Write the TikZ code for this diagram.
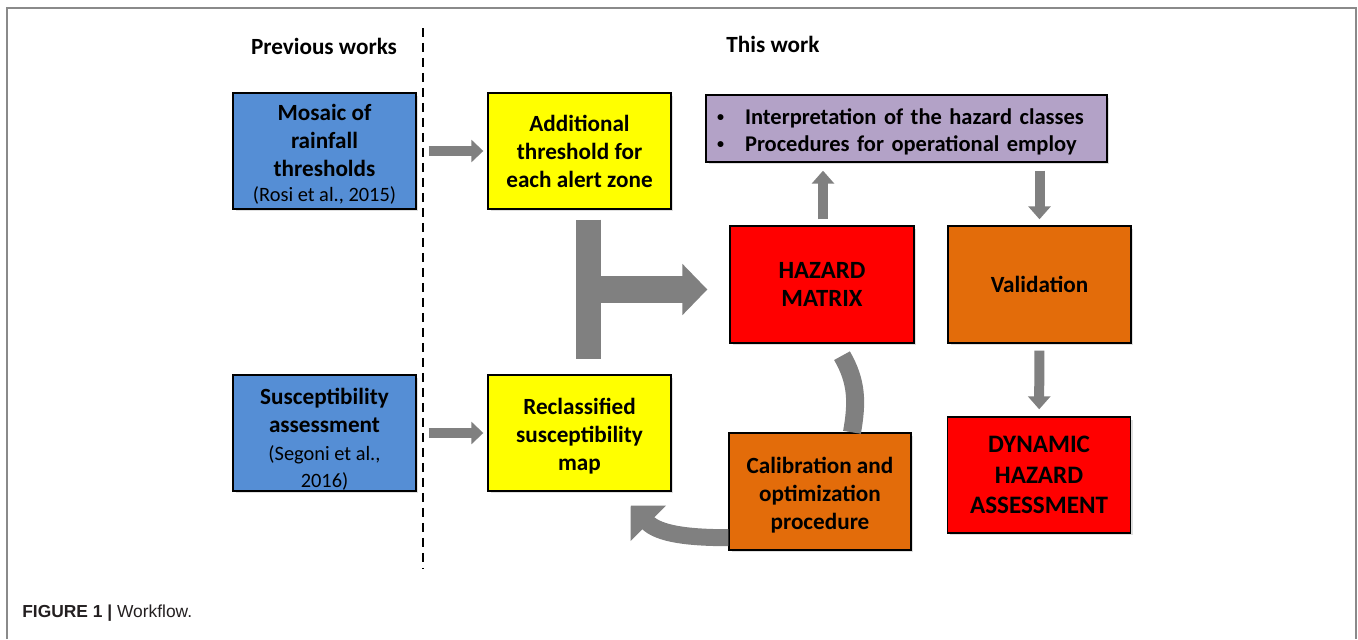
\documentclass[tikz,border=0pt]{standalone}
\usepackage{fontspec}
\setmainfont{Carlito}
\newfontfamily\capfont{Liberation Sans}
\usetikzlibrary{arrows.meta,shadows,calc}
\definecolor{boxblue}{HTML}{558ED5}
\definecolor{boxyellow}{HTML}{FFFF00}
\definecolor{boxpurple}{HTML}{B3A2C7}
\definecolor{boxred}{HTML}{FF0000}
\definecolor{boxorange}{HTML}{E36C0A}
\definecolor{arrowgray}{HTML}{808080}
\definecolor{framegray}{HTML}{8A8A8A}
\definecolor{captiongray}{HTML}{231F20}
\newcommand\refsrc{\mdseries\fontsize{11.6}{14.5}\selectfont}
\newcommand\smallbul{\raisebox{0.25ex}{\fontsize{8}{8}\selectfont\textbullet}}
\newcommand\lowerby[1]{\rule{0pt}{#1}}
\begin{document}
\begin{tikzpicture}[x=0.02cm,y=-0.02cm,
  box/.style={draw=black, line width=0.8pt, align=center, inner sep=0pt,
    font=\bfseries\fontsize{13.2}{15.9}\selectfont,
    minimum width=3.66cm, minimum height=2.32cm,
    drop shadow={opacity=0.25, shadow xshift=0.05cm, shadow yshift=-0.05cm}},
  head/.style={font=\bfseries\fontsize{13.2}{15}\selectfont, inner sep=0pt},
  sarrow/.style={draw=arrowgray, line width=0.2cm,
    -{Triangle[length=0.24cm, width=0.44cm]}},
  varrow/.style={draw=arrowgray, line width=0.2cm,
    -{Triangle[length=0.26cm, width=0.44cm]}},
  tbar/.style={draw=arrowgray, line width=0.5cm},
  tarrow/.style={draw=arrowgray, line width=0.54cm,
    -{Triangle[length=0.5cm, width=1.0cm]}},
  cband/.style={draw=arrowgray, line width=0.36cm},
  carrow/.style={draw=arrowgray, line width=0.34cm,
    -{Triangle[length=0.5cm, width=0.98cm]}},
  divider/.style={draw=black, line width=1.6pt, dash pattern=on 0.18cm off 0.12cm}
]
\useasboundingbox (0,0) rectangle (1358,639);
% frame
\draw[framegray, line width=1.1pt] (7,639) -- (7,8) -- (1356,8) -- (1356,639);

% headings and divider
\node[head] (prev) at (324,46) {Previous works};
\node[head] (this) at (773,44) {This work};
\coordinate (dtop) at (423,28);
\coordinate (dbot) at (423,568);
\draw[divider] (dtop) -- (dbot);

% boxes
\node[box, fill=boxblue] (mosaic) at (324.5,151)
  {\lowerby{13.3pt}Mosaic of\\rainfall\\thresholds\\[-1.5pt]{\refsrc (Rosi et al., 2015)}};
\node[box, fill=boxblue] (susc) at (324.5,433)
  {\lowerby{16.5pt}Susceptibility\\assessment\\{\refsrc (Segoni et al.,}\\{\refsrc 2016)}};
\node[box, fill=boxyellow] (thr) at (579.5,151)
  {Additional\\threshold for\\each alert zone};
\node[box, fill=boxyellow] (rec) at (579.5,433)
  {\lowerby{13.3pt}Reclassified\\susceptibility\\map};
\node[box, fill=boxpurple, minimum width=8.02cm, minimum height=1.34cm,
  text width=7.58cm, align=left, inner xsep=0.22cm,
  font=\bfseries\fontsize{12.8}{15.3}\selectfont]
  (interp) at (906.5,128.5)
  {\lowerby{13pt}\makebox[0.56cm][l]{\smallbul}Interpretation of the hazard classes\\
   \makebox[0.56cm][l]{\smallbul}Procedures for operational employ};
\node[box, fill=boxred, minimum width=3.68cm, minimum height=2.34cm,
  font=\bfseries\fontsize{14.1}{16.4}\selectfont] (haz) at (822,284.5)
  {HAZARD\\MATRIX};
\node[box, fill=boxorange, minimum height=2.34cm] (val) at (1039.5,284.5) {Validation};
\node[box, fill=boxred, font=\bfseries\fontsize{14.3}{17.3}\selectfont] (dyn) at (1039,475)
  {DYNAMIC\\HAZARD\\ASSESSMENT};
\node[box, fill=boxorange, minimum width=3.64cm, minimum height=2.34cm] (calib) at (820,491.5)
  {\lowerby{13.3pt}Calibration and\\optimization\\procedure};

% straight arrows
\draw[sarrow, shorten <=0.24cm, shorten >=0.08cm] (mosaic) -- (thr);
\draw[sarrow, shorten <=0.24cm, shorten >=0.08cm] (susc) -- (rec);
\draw[varrow, shorten <=0.12cm, shorten >=0.16cm]
  ([xshift=0.02cm]haz.north) -- ([xshift=0.02cm]haz.north |- interp.south);
\draw[varrow, shorten <=0.16cm, shorten >=0.12cm]
  (val.north |- interp.south) -- (val.north);
\draw[varrow, shorten <=0.14cm, shorten >=0.14cm] (val) -- (dyn);

% T-shaped arrow
\coordinate (ttop) at ([xshift=0.18cm,yshift=-0.2cm]thr.south);
\coordinate (tbot) at ([xshift=0.18cm,yshift=0.3cm]rec.north);
\coordinate (tj) at ($(ttop)!0.5!(tbot)$);
\draw[tbar] (ttop) -- (tbot);
\draw[tarrow, shorten >=0.44cm] (tj) -- (tj -| haz.west);

% curved connectors
\draw[cband] ([xshift=0.64cm]calib.north) to[out=80,in=-60]
  ([xshift=0.4cm,yshift=-0.24cm]haz.south);
\draw[carrow] ([yshift=0.26cm]calib.south west) to[out=180,in=-45]
  ([xshift=-0.82cm,yshift=-0.28cm]rec.south east);

% caption
\node[anchor=base west, inner sep=0pt, text=captiongray,
  font=\capfont\fontsize{9.9}{12}\selectfont] (cap) at (22,617)
  {\textbf{FIGURE 1 |} Workflow.};
\end{tikzpicture}
\end{document}
